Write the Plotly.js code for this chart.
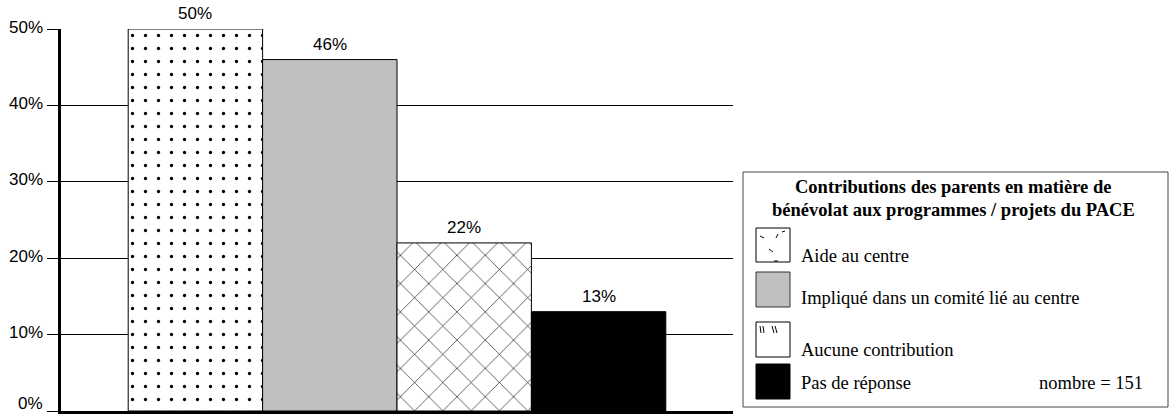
<!DOCTYPE html>
<html>
<head>
<meta charset="utf-8">
<script src="https://cdn.plot.ly/plotly-3.0.1.min.js"></script>
<style>html,body{margin:0;padding:0;background:#fff;}#chart{width:1172px;height:415px;}</style>
</head>
<body>
<div id="chart"></div>
<script>
// ---- data ----
const categories = ["Aide au centre", "Impliqué dans un comité lié au centre", "Aucune contribution", "Pas de réponse"];
const values = [50, 46, 22, 13];
const legendTitleLines = ["Contributions des parents en matière de", "bénévolat aux programmes / projets du PACE"];
const countLabel = "nombre = 151";
const tickValues = [0, 10, 20, 30, 40, 50];
const tickLabels = ["0%", "10%", "20%", "30%", "40%", "50%"];

// ---- styles ----
const fills = ["#ffffff", "#c0c0c0", "#ffffff", "#000000"];
const patterns = [
  {shape: ".", size: 13, solidity: 0.05, fgcolor: "#000", bgcolor: "#fff", fillmode: "replace"},
  {shape: "", bgcolor: "#c0c0c0"},
  {shape: "x", size: 20, solidity: 0.06, fgcolor: "#000", bgcolor: "#fff", fillmode: "replace"},
  {shape: "", bgcolor: "#000"}
];

const W = 1172, H = 415, ML = 61, MR = 439, MT = 29, MB = 4;
const PW = W - ML - MR, PH = H - MT - MB;
const px = x => (x - ML) / PW;
const py = y => (H - MB - y) / PH;
const sans = "Liberation Sans, Arial, sans-serif";
const serif = "Liberation Serif, Times New Roman, serif";

const traces = categories.map((c, i) => ({
  type: "bar",
  x: [c],
  y: [values[i]],
  width: 1,
  marker: {color: fills[i], pattern: patterns[i], line: {color: "#000", width: 1}},
  hoverinfo: "skip",
  showlegend: false
}));

const annotations = categories.map((c, i) => ({
  x: c, y: values[i], xref: "x", yref: "y",
  text: values[i] + "%", showarrow: false, yanchor: "bottom", yshift: 4,
  font: {family: sans, size: 17, color: "#000"}
}));

// y tick labels drawn as annotations so that the bottom one is not clipped
tickValues.forEach((v, i) => {
  annotations.push({
    xref: "paper", yref: "y", x: px(45), y: v, xanchor: "right", yanchor: "middle",
    yshift: v === 0 ? 8 : 2,
    text: tickLabels[i], showarrow: false, font: {family: sans, size: 17, color: "#000"}
  });
});

// legend box (custom)
const titleY = [187, 210];
legendTitleLines.forEach((t, i) => {
  annotations.push({
    xref: "paper", yref: "paper", x: px(953), y: py(titleY[i]), xanchor: "center", yanchor: "middle",
    text: "<b>" + t + "</b>", showarrow: false,
    font: {family: serif, size: 18.5, color: "#000"}
  });
});
const itemY = [256, 298, 350, 383];
categories.forEach((c, i) => {
  annotations.push({
    xref: "paper", yref: "paper", x: px(799), y: py(itemY[i]), xanchor: "left", yanchor: "middle",
    text: c, showarrow: false, font: {family: serif, size: 18.5, color: "#000"}
  });
});
annotations.push({
  xref: "paper", yref: "paper", x: px(1145), y: py(383), xanchor: "right", yanchor: "middle",
  text: countLabel, showarrow: false, font: {family: serif, size: 18.5, color: "#000"}
});

const shapes = [];
shapes.push({type: "rect", xref: "paper", yref: "paper", x0: px(743), x1: px(1168), y0: py(407), y1: py(172),
  line: {color: "#444", width: 1}, fillcolor: "rgba(0,0,0,0)"});
const swY = [[228, 262], [272, 307], [322, 357], [364, 399]];
swY.forEach((s, i) => {
  shapes.push({type: "rect", xref: "paper", yref: "paper", x0: px(756), x1: px(790), y0: py(s[1]), y1: py(s[0]),
    line: {color: i === 1 ? "#333" : "#000", width: 1}, fillcolor: fills[i]});
});
// small decorative marks inside swatches 1 and 3
const seg = (x0, y0, x1, y1) => ({type: "line", xref: "paper", yref: "paper", x0: px(x0), y0: py(y0), x1: px(x1), y1: py(y1), line: {color: "#000", width: 1}});
shapes.push(seg(760, 236, 764, 238), seg(776, 238, 778, 234), seg(769, 249, 773, 252), seg(774, 261, 778, 261), seg(782, 232, 785, 231));
shapes.push(seg(760, 326, 761, 333), seg(763, 326, 764, 333), seg(772, 326, 774, 333), seg(775, 326, 777, 333));

const layout = {
  width: W, height: H,
  margin: {l: ML, r: MR, t: MT, b: MB, pad: 0},
  paper_bgcolor: "#fff", plot_bgcolor: "#fff",
  bargap: 0,
  showlegend: false,
  font: {family: sans, size: 16, color: "#000"},
  xaxis: {type: "category", range: [-1, 4], showticklabels: false, ticks: "", showgrid: false,
    showline: true, linecolor: "#000", linewidth: 3, zeroline: false, fixedrange: true},
  yaxis: {range: [0, 50], tickvals: tickValues, showticklabels: false, ticks: "outside", ticklen: 11,
    tickcolor: "#000", tickwidth: 1, showgrid: true, gridcolor: "#000", gridwidth: 1,
    showline: true, linecolor: "#000", linewidth: 3, zeroline: false, fixedrange: true},
  annotations: annotations,
  shapes: shapes
};

Plotly.newPlot("chart", traces, layout, {displayModeBar: false, staticPlot: true});
</script>
</body>
</html>
